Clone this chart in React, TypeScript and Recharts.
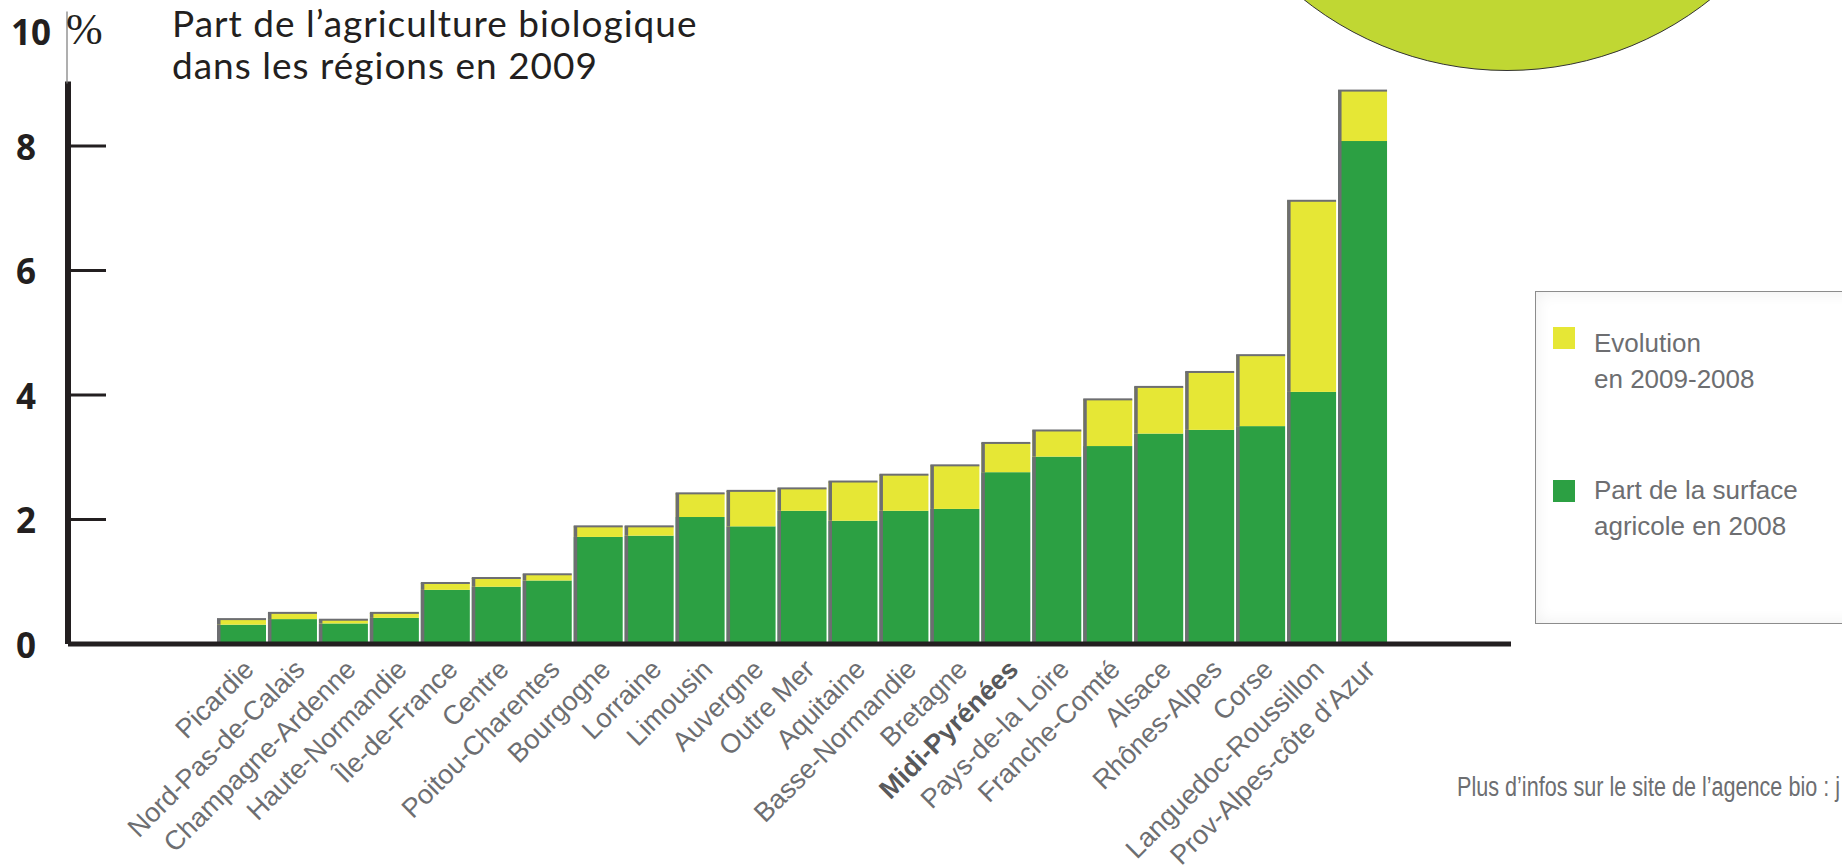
import React from 'react';
import { BarChart, Bar, XAxis, YAxis, Legend } from 'recharts';

const regions = [
  'Picardie', 'Nord-Pas-de-Calais', 'Champagne-Ardenne', 'Haute-Normandie', 'Île-de-France',
  'Centre', 'Poitou-Charentes', 'Bourgogne', 'Lorraine', 'Limousin', 'Auvergne', 'Outre Mer',
  'Aquitaine', 'Basse-Normandie', 'Bretagne', 'Midi-Pyrénées', 'Pays-de-la Loire',
  'Franche-Comté', 'Alsace', 'Rhônes-Alpes', 'Corse', 'Languedoc-Roussillon', 'Prov-Alpes-côte d’Azur',
];
const part2008 = [0.31, 0.40, 0.33, 0.42, 0.87, 0.92, 1.02, 1.72, 1.74, 2.04, 1.89, 2.14, 1.98, 2.14, 2.17, 2.76, 3.01, 3.18, 3.38, 3.44, 3.50, 4.05, 8.08];
const evolution = [0.09, 0.10, 0.06, 0.08, 0.11, 0.14, 0.10, 0.17, 0.15, 0.38, 0.57, 0.36, 0.63, 0.58, 0.70, 0.47, 0.42, 0.75, 0.75, 0.93, 1.14, 3.07, 0.81];
const yTicks = [0, 2, 4, 6, 8, 10];
const highlighted = 'Midi-Pyrénées';

const titleLines = ['Part de l’agriculture biologique', 'dans les régions en 2009'];
const legendEvolution = ['Evolution', 'en 2009-2008'];
const legendPart = ['Part de la surface', 'agricole en 2008'];

const data = regions.map((region, i) => ({ region, part2008: part2008[i], evolution: evolution[i] }));

const GREEN = '#2ca043';
const YELLOW = '#e6e735';
const EDGE = '#6d6e71';
const INK = '#231f20';

const GreenShape = (props: any) => {
  const { x, y, width, height, fill } = props;
  if (!height || height <= 0) return null;
  return (
    <g>
      <rect x={x} y={y} width={width} height={height} fill={fill} />
      <rect x={x} y={y} width={3.5} height={height} fill={EDGE} />
    </g>
  );
};

const YellowShape = (props: any) => {
  const { x, y, width, height, fill } = props;
  if (!height || height <= 0) return null;
  return (
    <g>
      <rect x={x} y={y} width={width} height={height} fill={fill} />
      <rect x={x} y={y} width={3.5} height={height} fill={EDGE} />
      <rect x={x} y={y - 1} width={width} height={2} fill={EDGE} />
    </g>
  );
};

const YTick = (props: any) => {
  const { x, y, payload } = props;
  const v = payload.value;
  const font = { fontFamily: '"Open Sans", "DejaVu Sans", sans-serif', fontWeight: 700, fontSize: 35, fill: INK };
  if (v === 10) {
    return (
      <g>
        <line x1={x - 1} y1={y - 10} x2={x - 1} y2={y + 62} stroke="#7a7a7a" strokeWidth={1.2} />
        <text x={x - 57} y={y + 10} dominantBaseline="central" {...font}>10</text>
        <text x={x - 2} y={y + 8} dominantBaseline="central" fontFamily='"Liberation Serif", serif' fontSize={44} fill={INK}>%</text>
      </g>
    );
  }
  return (
    <g>
      {v !== 0 && <line x1={x} y1={y} x2={x + 38} y2={y} stroke={INK} strokeWidth={3} />}
      <text x={x - 42} y={y} textAnchor="middle" dominantBaseline="central" {...font}>{v}</text>
    </g>
  );
};

const XTick = (props: any) => {
  const { x, y, payload } = props;
  const bold = payload.value === highlighted;
  const ax = x + 14;
  const ay = y + 27;
  return (
    <text
      x={ax}
      y={ay}
      textAnchor="end"
      transform={`rotate(-45, ${ax}, ${ay})`}
      fontFamily='"Liberation Sans", Arial, sans-serif'
      fontSize={27}
      fontWeight={bold ? 700 : 400}
      fill={bold ? '#58595b' : EDGE}
    >
      {payload.value}
    </text>
  );
};

const LegendBox = (props: any) => {
  const payload = props.payload || [];
  const evo = payload.find((p: any) => p.dataKey === 'evolution');
  const part = payload.find((p: any) => p.dataKey === 'part2008');
  const textStyle: React.CSSProperties = {
    position: 'absolute',
    left: 58,
    fontFamily: '"Liberation Sans", Arial, sans-serif',
    fontSize: 26,
    lineHeight: '36px',
    color: EDGE,
    whiteSpace: 'nowrap',
  };
  return (
    <div
      style={{
        position: 'relative',
        width: 330,
        height: 333,
        boxSizing: 'border-box',
        border: '1.5px solid #8c8c8c',
        background: '#fff',
        boxShadow: 'inset 0 0 16px rgba(0,0,0,0.07)',
      }}
    >
      <div style={{ position: 'absolute', left: 17, top: 35, width: 22, height: 22, background: evo ? evo.color : '#efe61f' }} />
      <div style={{ ...textStyle, top: 33 }}>
        {legendEvolution.map((l) => <div key={l}>{l}</div>)}
      </div>
      <div style={{ position: 'absolute', left: 17, top: 188, width: 22, height: 22, background: part ? part.color : '#339933' }} />
      <div style={{ ...textStyle, top: 180 }}>
        {legendPart.map((l) => <div key={l}>{l}</div>)}
      </div>
    </div>
  );
};

export default function App() {
  const titleStyle: React.CSSProperties = {
    position: 'absolute',
    left: 172,
    fontFamily: 'Lato, "Open Sans", sans-serif',
    fontSize: 37,
    letterSpacing: 1,
    lineHeight: '42px',
    color: INK,
    whiteSpace: 'nowrap',
  };
  return (
    <div
      style={{
        position: 'absolute',
        left: 0,
        top: 0,
        width: 1842,
        height: 868,
        overflow: 'hidden',
        background: '#fff',
      }}
    >
      <div
        style={{
          position: 'absolute',
          left: 1180,
          top: -583,
          width: 654,
          height: 654,
          borderRadius: '50%',
          background: '#c0d733',
          border: '1px solid #333',
          boxSizing: 'border-box',
        }}
      />
      <div style={{ ...titleStyle, top: 2 }}>{titleLines[0]}</div>
      <div style={{ ...titleStyle, top: 44 }}>{titleLines[1]}</div>
      <div style={{ position: 'absolute', left: 0, top: 0 }}>
        <BarChart
          width={1842}
          height={868}
          data={data}
          margin={{ top: 21.5, right: 331, bottom: 0, left: 0 }}
          barCategoryGap={1}
        >
          <YAxis
            type="number"
            domain={[0, 10]}
            ticks={yTicks}
            width={68}
            tickLine={false}
            tickSize={0}
            tickMargin={0}
            tick={<YTick />}
            axisLine={{ stroke: INK, strokeWidth: 6, strokeDasharray: '0 60 2000' }}
            interval={0}
          />
          <XAxis
            dataKey="region"
            type="category"
            height={224}
            padding={{ left: 148, right: 123 }}
            interval={0}
            tickLine={false}
            tickSize={0}
            tickMargin={0}
            tick={<XTick />}
            axisLine={{ stroke: INK, strokeWidth: 5 }}
          />
          <Legend
            layout="vertical"
            align="center"
            verticalAlign="middle"
            content={<LegendBox />}
            wrapperStyle={{ position: 'absolute', left: 1535, top: 291, width: 330, height: 333 }}
          />
          <Bar
            dataKey="part2008"
            stackId="a"
            fill={GREEN}
            name="Part de la surface agricole en 2008"
            shape={GreenShape}
            isAnimationActive={false}
          />
          <Bar
            dataKey="evolution"
            stackId="a"
            fill={YELLOW}
            name="Evolution en 2009-2008"
            shape={YellowShape}
            isAnimationActive={false}
          />
        </BarChart>
      </div>
      <div
        style={{
          position: 'absolute',
          left: 1457,
          top: 771,
          fontFamily: '"Liberation Sans", Arial, sans-serif',
          fontSize: 27,
          lineHeight: '32px',
          color: EDGE,
          whiteSpace: 'nowrap',
          transform: 'scaleX(0.8)',
          transformOrigin: 'left top',
        }}
      >
        Plus d’infos sur le site de l’agence bio : <span style={{ textDecoration: 'underline' }}>j</span>
      </div>
    </div>
  );
}
